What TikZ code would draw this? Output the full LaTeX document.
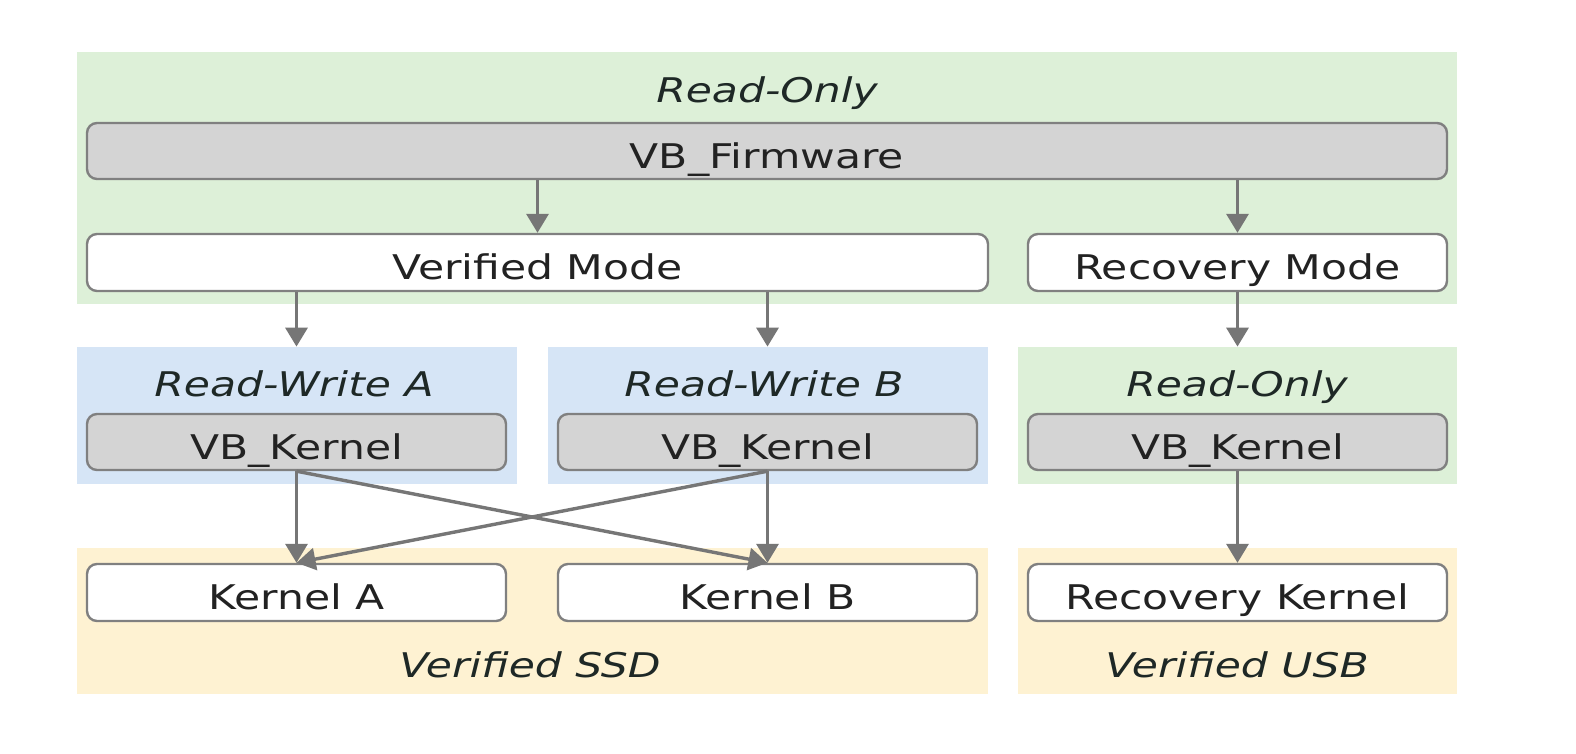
\documentclass[tikz,border=0pt]{standalone}
\usepackage{fontspec}
\setmainfont{DejaVu Sans}[FakeStretch=1.25]
\usetikzlibrary{arrows.meta}
\definecolor{rogreen}{RGB}{221,240,216}
\definecolor{rwblue}{RGB}{214,229,246}
\definecolor{vyellow}{RGB}{254,242,210}
\definecolor{boxgray}{RGB}{212,212,212}
\definecolor{edgegray}{RGB}{128,128,128}
\definecolor{arrgray}{RGB}{118,118,118}
\definecolor{txt}{RGB}{34,34,34}
\definecolor{ltxt}{RGB}{30,40,38}
\tikzset{
  region/.style={draw=none, inner sep=0pt},
  boxtext/.style={inner sep=0pt, text height=17.5pt, text depth=0pt, text=txt},
  graybox/.style={boxtext, draw=edgegray, line width=1.2pt, fill=boxgray, rounded corners=5pt},
  whitebox/.style={boxtext, draw=edgegray, line width=1.2pt, fill=white, rounded corners=5pt},
  lbl/.style={inner sep=0pt, anchor=base, text=ltxt, font=\fontsize{17}{20}\selectfont\itshape},
  conn/.style={draw=arrgray, line width=1.7pt, -{Triangle[width=11pt,length=9.5pt]}},
}
\begin{document}
\begin{tikzpicture}[x=0.5pt, y=-0.5pt, font=\fontsize{17}{20}\selectfont]
\useasboundingbox (0,0) rectangle (1576,754);
\fill[white] (0,0) rectangle (1576,754);
% regions
\node[region, fill=rogreen, minimum width=690pt, minimum height=126pt] (top) at (767,178) {};
\node[region, fill=rwblue, minimum width=220pt, minimum height=68.5pt] (rwA) at (297,415.5) {};
\node[region, fill=rwblue, minimum width=220pt, minimum height=68.5pt] (rwB) at (768,415.5) {};
\node[region, fill=rogreen, minimum width=219.5pt, minimum height=68.5pt] (ro2) at (1237.5,415.5) {};
\node[region, fill=vyellow, minimum width=455.5pt, minimum height=73pt] (ssd) at (532.5,621) {};
\node[region, fill=vyellow, minimum width=219.5pt, minimum height=73pt] (usb) at (1237.5,621) {};
% region labels
\node[lbl] (rol) at (767,103) {Read-Only};
\node[lbl] (rwAl) at (294,397) {Read-Write A};
\node[lbl] (rwBl) at (764,397) {Read-Write B};
\node[lbl] (ro2l) at (1237,397) {Read-Only};
\node[lbl] (ssdl) at (530,677) {Verified SSD};
\node[lbl] (usbl) at (1237,677) {Verified USB};
% boxes
\node[graybox, minimum width=680pt, minimum height=28pt] (fw) at (767,151) {VB\_Firmware};
\node[whitebox, minimum width=450.5pt, minimum height=28.5pt] (vm) at (537.5,262.5) {Verified Mode};
\node[whitebox, minimum width=209.5pt, minimum height=28.5pt] (rm) at (1237.5,262.5) {Recovery Mode};
\node[graybox, minimum width=209.5pt, minimum height=28pt] (vkA) at (296.5,442) {VB\_Kernel};
\node[graybox, minimum width=209.5pt, minimum height=28pt] (vkB) at (767.5,442) {VB\_Kernel};
\node[graybox, minimum width=209.5pt, minimum height=28pt] (vkR) at (1237.5,442) {VB\_Kernel};
\node[whitebox, minimum width=209.5pt, minimum height=28.5pt] (kA) at (296.5,592.5) {Kernel A};
\node[whitebox, minimum width=209.5pt, minimum height=28.5pt] (kB) at (767.5,592.5) {Kernel B};
\node[whitebox, minimum width=209.5pt, minimum height=28.5pt] (kR) at (1237.5,592.5) {Recovery Kernel};
% connectors
\draw[conn] (vm.north |- fw.south) -- (vm.north);
\draw[conn] (rm.north |- fw.south) -- (rm.north);
\draw[conn] (vkA.north |- vm.south) -- (rwA.north -| vkA.north);
\draw[conn] (vkB.north |- vm.south) -- (rwB.north -| vkB.north);
\draw[conn] (rm.south) -- (ro2.north -| rm.south);
\draw[conn] (vkA.south) -- (kA.north);
\draw[conn] (vkA.south) -- (kB.north);
\draw[conn] (vkB.south) -- (kA.north);
\draw[conn] (vkB.south) -- (kB.north);
\draw[conn] (vkR.south) -- (kR.north);
\end{tikzpicture}
\end{document}
